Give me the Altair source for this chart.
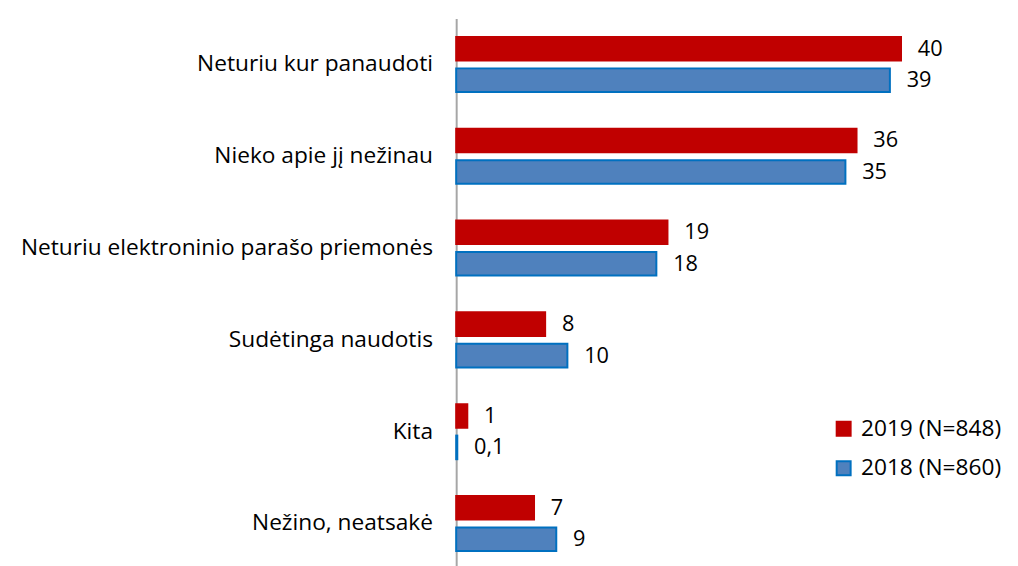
import altair as alt
import pandas as pd

categories = ["Neturiu kur panaudoti", "Nieko apie jį nežinau", "Neturiu elektroninio parašo priemonės",
              "Sudėtinga naudotis", "Kita", "Nežino, neatsakė"]
series = ["2019 (N=848)", "2018 (N=860)"]
v2019 = [40, 36, 19, 8, 1, 7]
v2018 = [39, 35, 18, 10, 0.1, 9]
lab2019 = ["40", "36", "19", "8", "1", "7"]
lab2018 = ["39", "35", "18", "10", "0,1", "9"]

rows = []
for i, c in enumerate(categories):
    rows.append({"cat": c, "series": series[0], "value": v2019[i], "label": lab2019[i]})
    rows.append({"cat": c, "series": series[1], "value": v2018[i], "label": lab2018[i]})
df = pd.DataFrame(rows)

FONT = "Open Sans"

y = alt.Y("cat:N", sort=categories, title=None,
          scale=alt.Scale(paddingInner=0.4, paddingOuter=0.2),
          axis=alt.Axis(ticks=False, labelFontSize=23, labelFont=FONT, labelColor="#000000",
                        labelPadding=24, domainColor="#A6A6A6", domainWidth=2, labelLimit=500))
yoff = alt.YOffset("series:N", sort=series, scale=alt.Scale(paddingInner=0.25, paddingOuter=0))
x = alt.X("value:Q", scale=alt.Scale(domain=[0, 49.8], nice=False, zero=True), axis=None)

color = alt.Color("series:N", sort=series,
                  scale=alt.Scale(domain=series, range=["#C00000", "#4F81BD"]),
                  legend=alt.Legend(title=None, orient="none", legendX=381, legendY=404,
                                    symbolType="square", symbolSize=200, symbolStrokeWidth=2,
                                    labelFontSize=23, labelFont=FONT, labelColor="#000000",
                                    rowPadding=16, labelOffset=6))
stroke = alt.Stroke("series:N", sort=series,
                    scale=alt.Scale(domain=series, range=["#C00000", "#0070C0"]), legend=None)

bars = alt.Chart(df).mark_bar(strokeWidth=2).encode(y=y, yOffset=yoff, x=x, color=color, stroke=stroke)
text = alt.Chart(df).mark_text(align="left", baseline="middle", dx=17, fontSize=22, font=FONT,
                               color="#000000").encode(y=y, yOffset=yoff, x=x, text="label:N")

chart = (bars + text).properties(
    width=561, height=558,
    autosize=alt.AutoSizeParams(type="none"),
    padding={"left": 454, "top": 7, "right": 0, "bottom": 0},
).configure_view(stroke=None)

chart.save("out.html", embed_options={"renderer": "svg", "actions": False})
